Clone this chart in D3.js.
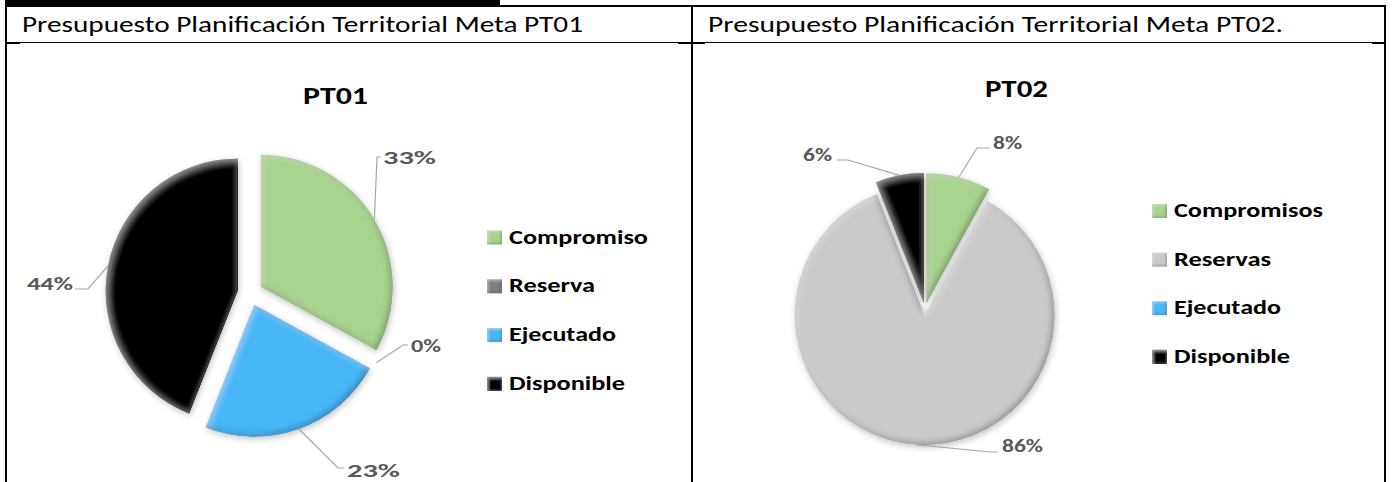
<!DOCTYPE html>
<html>
<head>
<meta charset="utf-8">
<script src="https://cdn.jsdelivr.net/npm/d3@7/dist/d3.min.js"></script>
<style>
  html, body { margin: 0; padding: 0; background: #fff; }
  svg { display: block; }
</style>
</head>
<body>
<svg id="chart" width="1393" height="482"></svg>
<script>
// ---- data ----
const cellTitles = ["Presupuesto Planificación Territorial Meta PT01", "Presupuesto Planificación Territorial Meta PT02."];
const chartTitles = ["PT01", "PT02"];

const categoriesPT01 = ["Compromiso", "Reserva", "Ejecutado", "Disponible"];
const valuesPT01 = [33, 0, 23, 44];
const categoriesPT02 = ["Compromisos", "Reservas", "Ejecutado", "Disponible"];
const valuesPT02 = [8, 86, null, 6];   // Ejecutado left blank

const colorsPT01 = ["#a9d38f", "#7f7f7f", "#47b7f6", "#050505"];
const colorsPT02 = ["#a9d38f", "#cacaca", "#47b7f6", "#050505"];

// ---- layout ----
const FONT = "Carlito, Calibri, Lato, 'Open Sans', sans-serif";
const LABEL_COLOR = "#595959";

const charts = [
  {
    categories: categoriesPT01, values: valuesPT01, colors: colorsPT01, title: chartTitles[0],
    cx: 250, cy: 293, r: 132, explode: 12.5,
    titleX: 335.5, titleY: 104, titleW: 65,
    legendX: 487, legendY: 243.5, legendStep: 48.8,
    legendW: [139, 86, 107, 116],
    // label box: left x, baseline y, width; leader bend point and end point
    labels: [
      { x: 383, y: 164, w: 53, bend: [377, 157], end: [381, 157] },
      { x: 411, y: 352, w: 30, bend: [403, 345], end: [408, 345] },
      { x: 347, y: 477, w: 53, bend: [338, 468], end: [344, 468] },
      { x: 27,  y: 290, w: 46, bend: [88, 289],  end: [75, 289] }
    ]
  },
  {
    categories: categoriesPT02, values: valuesPT02, colors: colorsPT02, title: chartTitles[1],
    cx: 925, cy: 309, r: 130, explode: 6,
    titleX: 1016.5, titleY: 97, titleW: 63,
    legendX: 1152, legendY: 217, legendStep: 48.6,
    legendW: [149, 97, 107, 116],
    labels: [
      { x: 993,  y: 148.5, w: 29, bend: [977, 148], end: [990, 148] },
      { x: 1002, y: 452,   w: 41, bend: [990, 452], end: [998, 452] },
      null,
      { x: 803,  y: 160.5, w: 29, bend: [848, 160], end: [837, 160] }
    ]
  }
];

const svg = d3.select("#chart");
const defs = svg.append("defs");

// soft rounded bevel used on slices and legend keys
function bevelFilter(id, blur, depth, darkOp, lightOp, shadow) {
  const f = defs.append("filter").attr("id", id)
    .attr("x", "-20%").attr("y", "-20%").attr("width", "140%").attr("height", "140%");
  f.append("feGaussianBlur").attr("in", "SourceAlpha").attr("stdDeviation", blur).attr("result", "blur");
  f.append("feOffset").attr("in", "blur").attr("dx", -depth).attr("dy", -depth).attr("result", "offDark");
  f.append("feComposite").attr("in", "SourceAlpha").attr("in2", "offDark")
    .attr("operator", "arithmetic").attr("k1", 0).attr("k2", 1).attr("k3", -1).attr("k4", 0).attr("result", "rimDark");
  f.append("feFlood").attr("flood-color", "#000").attr("flood-opacity", darkOp).attr("result", "black");
  f.append("feComposite").attr("in", "black").attr("in2", "rimDark").attr("operator", "in").attr("result", "dark");
  f.append("feOffset").attr("in", "blur").attr("dx", depth).attr("dy", depth).attr("result", "offLight");
  f.append("feComposite").attr("in", "SourceAlpha").attr("in2", "offLight")
    .attr("operator", "arithmetic").attr("k1", 0).attr("k2", 1).attr("k3", -1).attr("k4", 0).attr("result", "rimLight");
  f.append("feFlood").attr("flood-color", "#fff").attr("flood-opacity", lightOp).attr("result", "white");
  f.append("feComposite").attr("in", "white").attr("in2", "rimLight").attr("operator", "in").attr("result", "light");
  f.append("feOffset").attr("in", "blur").attr("dx", 1).attr("dy", 2).attr("result", "shOff");
  f.append("feFlood").attr("flood-color", "#000").attr("flood-opacity", shadow).attr("result", "shCol");
  f.append("feComposite").attr("in", "shCol").attr("in2", "shOff").attr("operator", "in").attr("result", "shadow");
  const m = f.append("feMerge");
  m.append("feMergeNode").attr("in", "shadow");
  m.append("feMergeNode").attr("in", "SourceGraphic");
  m.append("feMergeNode").attr("in", "dark");
  m.append("feMergeNode").attr("in", "light");
}
bevelFilter("bevel", 3, 2, 0.6, 0.3, 0.25);
bevelFilter("bevelKey", 1.5, 1.2, 0.6, 0.4, 0);

// ---- table frame ----
const frame = svg.append("g").attr("fill", "#000");
frame.append("rect").attr("x", 5).attr("y", 0).attr("width", 495).attr("height", 7);   // heading rule above the table
frame.append("rect").attr("x", 5).attr("y", 5).attr("width", 1381).attr("height", 2);  // top border
frame.append("rect").attr("x", 5).attr("y", 5).attr("width", 2).attr("height", 477);   // left border
frame.append("rect").attr("x", 691).attr("y", 5).attr("width", 2).attr("height", 477); // column divider
frame.append("rect").attr("x", 1384).attr("y", 5).attr("width", 2).attr("height", 477);// right border
frame.append("rect").attr("x", 7).attr("y", 42).attr("width", 1377).attr("height", 1); // header row rule
frame.append("rect").attr("x", 7).attr("y", 42).attr("width", 13).attr("height", 2);
frame.append("rect").attr("x", 678).attr("y", 42).attr("width", 27).attr("height", 2);
frame.append("rect").attr("x", 1372).attr("y", 42).attr("width", 12).attr("height", 2);

svg.selectAll("text.cell").data(cellTitles).enter().append("text")
  .attr("class", "cell")
  .attr("x", (d, i) => i === 0 ? 22 : 708)
  .attr("y", 32)
  .attr("font-family", FONT).attr("font-size", 21.5).attr("fill", "#000")
  .attr("textLength", (d, i) => i === 0 ? 561 : 575)
  .attr("lengthAdjust", "spacingAndGlyphs")
  .text(d => d);

// ---- pies ----
const fmt = v => d3.format(".0%")(v / 100);

charts.forEach(c => {
  const g = svg.append("g");
  const pie = d3.pie().sort(null).value(d => d.value || 0);
  const rows = c.categories.map((name, i) => ({ name, value: c.values[i], color: c.colors[i], label: c.labels[i] }));
  const arcs = pie(rows);
  const arc = d3.arc().innerRadius(0).outerRadius(c.r);

  const shift = a => {
    const m = (a.startAngle + a.endAngle) / 2;
    return [c.explode * Math.sin(m), -c.explode * Math.cos(m)];
  };

  g.append("text")
    .attr("x", c.titleX).attr("y", c.titleY)
    .attr("text-anchor", "middle")
    .attr("font-family", FONT).attr("font-weight", "bold").attr("font-size", 25).attr("fill", "#000")
    .attr("textLength", c.titleW).attr("lengthAdjust", "spacingAndGlyphs")
    .text(c.title);

  g.selectAll("path.slice").data(arcs.filter(a => a.endAngle > a.startAngle)).enter().append("path")
    .attr("class", "slice")
    .attr("transform", a => { const s = shift(a); return `translate(${c.cx + s[0]},${c.cy + s[1]})`; })
    .attr("d", arc)
    .attr("fill", a => a.data.color)
    .attr("filter", "url(#bevel)");

  // leader lines and value labels
  const withLabels = arcs.filter(a => a.data.value !== null && a.data.label);
  g.selectAll("polyline.leader").data(withLabels).enter().append("polyline")
    .attr("class", "leader")
    .attr("fill", "none").attr("stroke", "#a6a6a6").attr("stroke-width", 1.2)
    .attr("points", a => {
      const s = shift(a);
      const m = (a.startAngle + a.endAngle) / 2;
      const p0 = [c.cx + s[0] + c.r * Math.sin(m), c.cy + s[1] - c.r * Math.cos(m)];
      return [p0, a.data.label.bend, a.data.label.end].map(p => p.join(",")).join(" ");
    });

  g.selectAll("text.value").data(withLabels).enter().append("text")
    .attr("class", "value")
    .attr("x", a => a.data.label.x).attr("y", a => a.data.label.y)
    .attr("font-family", FONT).attr("font-weight", "bold").attr("font-size", 19).attr("fill", LABEL_COLOR)
    .attr("textLength", a => a.data.label.w).attr("lengthAdjust", "spacingAndGlyphs")
    .text(a => fmt(a.data.value));

  // legend
  const lg = g.selectAll("g.key").data(rows).enter().append("g")
    .attr("class", "key")
    .attr("transform", (d, i) => `translate(${c.legendX},${c.legendY + i * c.legendStep})`);
  lg.append("rect").attr("x", 0).attr("y", -13).attr("width", 15).attr("height", 14)
    .attr("fill", d => d.color).attr("filter", "url(#bevelKey)");
  lg.append("text").attr("x", 22).attr("y", 0)
    .attr("font-family", FONT).attr("font-weight", "bold").attr("font-size", 20.5).attr("fill", "#000")
    .attr("textLength", (d, i) => c.legendW[i]).attr("lengthAdjust", "spacingAndGlyphs")
    .text(d => d.name);
});
</script>
</body>
</html>
